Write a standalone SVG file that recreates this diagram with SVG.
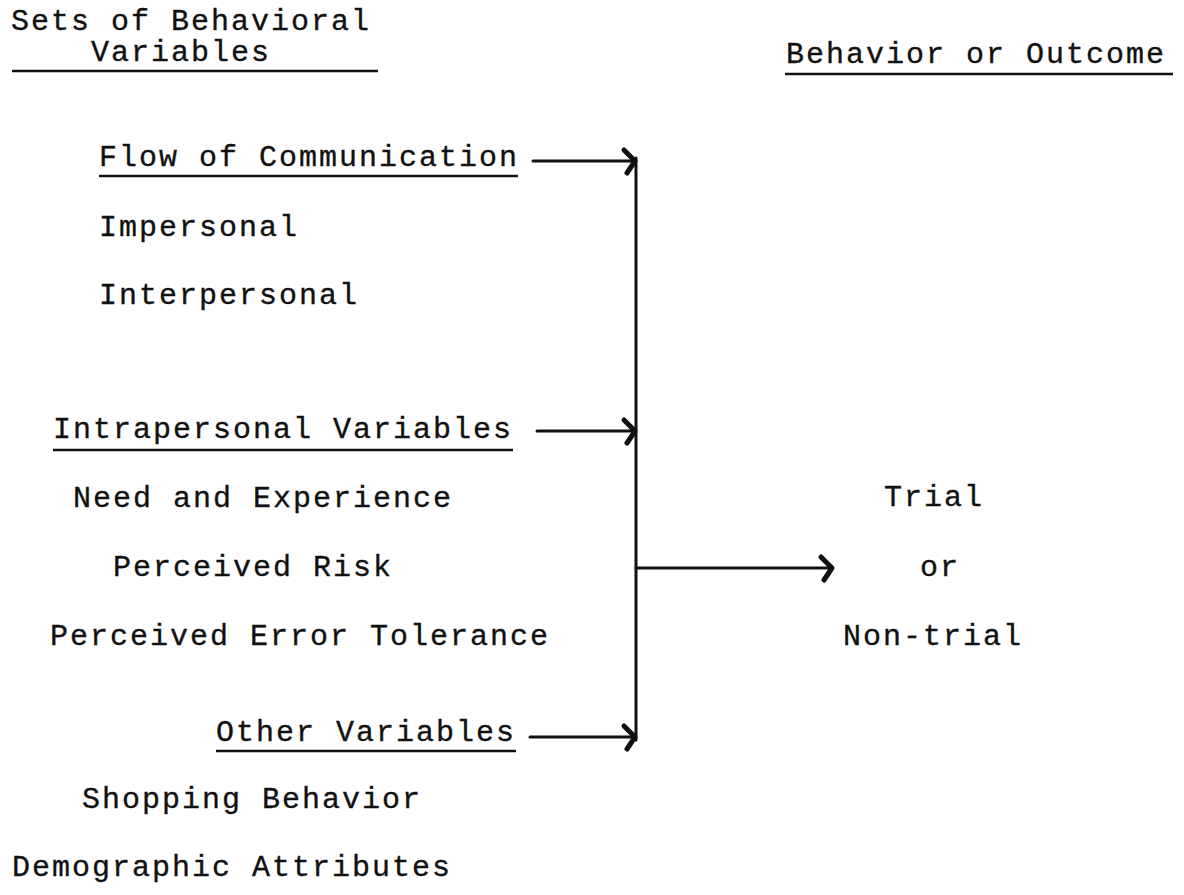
<svg xmlns="http://www.w3.org/2000/svg" width="1184" height="895" viewBox="0 0 1184 895">
<style>
text{font-family:"Liberation Mono","Courier New",monospace;font-size:30px;letter-spacing:2px;fill:#111;stroke:#111;stroke-width:0.35}
.ul{stroke:#111;stroke-width:2.5;fill:none}
.ln{stroke:#111;stroke-width:3;fill:none;stroke-linecap:round}
.ah{stroke:#111;stroke-width:5;fill:none;stroke-linecap:round;stroke-linejoin:round}
</style>
<rect width="1184" height="895" fill="#fff"/>
<g id="header-left">
<text x="11" y="30">Sets of Behavioral</text>
<text x="91" y="61">Variables</text>
<line class="ul" x1="12" y1="71" x2="378" y2="71"/>
</g>
<g id="header-right">
<text x="786" y="63">Behavior or Outcome</text>
<line class="ul" x1="785" y1="74" x2="1173" y2="74"/>
</g>
<g id="flow">
<text x="99" y="166">Flow of Communication</text>
<line class="ul" x1="99" y1="176" x2="518" y2="176"/>
<text x="99" y="236">Impersonal</text>
<text x="99" y="304">Interpersonal</text>
</g>
<g id="intrapersonal">
<text x="53" y="438">Intrapersonal Variables</text>
<line class="ul" x1="53" y1="450" x2="513" y2="450"/>
<text x="73" y="507">Need and Experience</text>
<text x="113" y="576">Perceived Risk</text>
<text x="50" y="645">Perceived Error Tolerance</text>
</g>
<g id="other">
<text x="216" y="741">Other Variables</text>
<line class="ul" x1="216" y1="751" x2="516" y2="751"/>
<text x="82" y="808">Shopping Behavior</text>
<text x="12" y="876">Demographic Attributes</text>
</g>
<g id="outcome">
<text x="884" y="506">Trial</text>
<text x="920" y="576">or</text>
<text x="843" y="645">Non-trial</text>
</g>
<g id="connectors">
<line class="ln" x1="636" y1="158" x2="636" y2="740"/>
<line class="ln" x1="533" y1="161" x2="634" y2="161"/>
<path class="ah" d="M624 150 L635 161 L627 173"/>
<line class="ln" x1="537" y1="431" x2="634" y2="431"/>
<path class="ah" d="M624 420 L635 431 L627 443"/>
<line class="ln" x1="530" y1="737" x2="634" y2="737"/>
<path class="ah" d="M624 726 L635 737 L627 749"/>
<line class="ln" x1="636" y1="568" x2="831" y2="568"/>
<path class="ah" d="M821 557 L832 568 L824 580"/>
</g>
</svg>
